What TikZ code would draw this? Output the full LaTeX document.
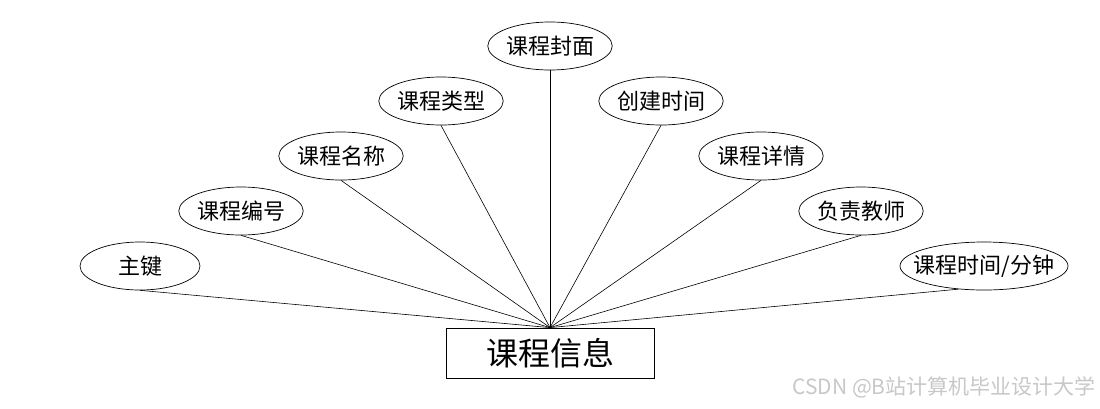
\documentclass[tikz,border=0pt]{standalone}
\usepackage{fontspec}
\newfontfamily\cjk{Noto Sans CJK SC}
\usetikzlibrary{shapes.geometric}
\definecolor{wm}{RGB}{200,200,200}
\tikzset{
  attr/.style={ellipse, draw=black, line width=0.7pt, minimum width=120pt, minimum height=48pt, inner sep=0pt, font=\cjk\fontsize{22}{22}\selectfont},
  ent/.style={rectangle, draw=black, line width=0.8pt, minimum width=208pt, minimum height=50pt, inner sep=0pt, font=\cjk\fontsize{32}{32}\selectfont},
  link/.style={draw=black, line width=0.6pt}
}
\begin{document}
\begin{tikzpicture}[x=1pt,y=-1pt]
\useasboundingbox[fill=white] (0,0) rectangle (1100,408);
\node[ent] (e) at (550,353) {课程信息};
\node[attr] (a1) at (140,266) {主键};
\node[attr] (a2) at (241,211) {课程编号};
\node[attr] (a3) at (341,156) {课程名称};
\node[attr] (a4) at (441,101) {课程类型};
\node[attr] (a5) at (550,46) {课程封面};
\node[attr] (a6) at (661,101) {创建时间};
\node[attr] (a7) at (761,156) {课程详情};
\node[attr] (a8) at (861,211) {负责教师};
\node[attr, minimum width=168pt, inner xsep=-12pt, inner ysep=-4pt] (a9) at (984,266) {课程时间/分钟};
\foreach \n in {a1,a2,a3,a4,a5,a6,a7,a8} \draw[link] (\n.south) -- (e.north);
\draw[link] (a9.222) -- (e.north);
\node[anchor=east, text=wm, inner sep=0pt, font=\cjk\fontsize{21}{21}\selectfont] (wmk) at (1096,387) {CSDN @B站计算机毕业设计大学};
\end{tikzpicture}
\end{document}
